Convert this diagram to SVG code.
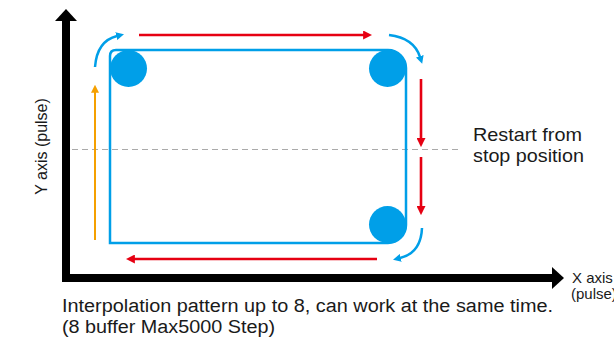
<svg xmlns="http://www.w3.org/2000/svg" width="614" height="338" viewBox="0 0 614 338">
<style>
.txt{font-family:"Liberation Sans",Arial,sans-serif;fill:#1a1a1a}
.blue{fill:none;stroke:#009FE8;stroke-width:2.5}
.red{fill:none;stroke:#E60012;stroke-width:2.6}
.axis{stroke:#000;stroke-width:8;fill:none}
</style>
<defs>
<marker id="mRed" viewBox="0 0 10 10" refX="1" refY="5" markerWidth="9" markerHeight="9" markerUnits="userSpaceOnUse" orient="auto"><path d="M0,0 L10,5 L0,10 Z" fill="#E60012"/></marker>
<marker id="mBlue" viewBox="0 0 10 10" refX="1" refY="5" markerWidth="8" markerHeight="8" markerUnits="userSpaceOnUse" orient="auto"><path d="M0,0 L10,5 L0,10 Z" fill="#009FE8"/></marker>
<marker id="mOrange" viewBox="0 0 10 10" refX="1" refY="5" markerWidth="8" markerHeight="8" markerUnits="userSpaceOnUse" orient="auto"><path d="M0,0 L10,5 L0,10 Z" fill="#F5A000"/></marker>
</defs>
<rect width="614" height="338" fill="#fff"/>
<g id="stop-line">
<line x1="72" y1="149.5" x2="462" y2="149.5" stroke="#aaa" stroke-width="1.2" stroke-dasharray="6 4"/>
</g>
<g id="axes">
<line class="axis" x1="66" y1="282" x2="66" y2="20"/>
<polygon points="55,21 66,9 77,21" fill="#000"/>
<line class="axis" x1="62" y1="278" x2="553" y2="278"/>
<polygon points="552,267 564,278 552,289" fill="#000"/>
</g>
<g id="path-rect">
<path class="blue" d="M110,243 L110,56 Q110,50 116,50 L388,50 A18,18 0 0 1 406,68 L406,225 A18,18 0 0 1 388,243 Z"/>
</g>
<g id="point-tl"><circle cx="128.5" cy="68.5" r="18.5" fill="#009FE8"/></g>
<g id="point-tr"><circle cx="387.5" cy="68.5" r="18.5" fill="#009FE8"/></g>
<g id="point-br"><circle cx="387.5" cy="224.5" r="18.5" fill="#009FE8"/></g>
<g id="connectors">
<line x1="95" y1="240" x2="95" y2="92" stroke="#F5A000" stroke-width="2" marker-end="url(#mOrange)"/>
<path class="blue" d="M95,67 Q97,41 117,36" marker-end="url(#mBlue)"/>
<line class="red" x1="139" y1="35" x2="364" y2="35" marker-end="url(#mRed)"/>
<path class="blue" d="M389,35 Q414,38 420,57" marker-end="url(#mBlue)"/>
<line class="red" x1="421" y1="79" x2="421" y2="139" marker-end="url(#mRed)"/>
<line class="red" x1="421" y1="157" x2="421" y2="207" marker-end="url(#mRed)"/>
<path class="blue" d="M422,228 Q421,253 400,258" marker-end="url(#mBlue)"/>
<line class="red" x1="377" y1="259" x2="134" y2="259" marker-end="url(#mRed)"/>
</g>
<g id="labels">
<text class="txt" x="473" y="141" font-size="18.5" textLength="109" lengthAdjust="spacingAndGlyphs">Restart from</text>
<text class="txt" x="473" y="162" font-size="18.5" textLength="111" lengthAdjust="spacingAndGlyphs">stop position</text>
<text class="txt" x="572" y="283" font-size="15">X axis</text>
<text class="txt" x="571" y="298.5" font-size="15">(pulse)</text>
<text class="txt" transform="translate(47,146.5) rotate(-90)" text-anchor="middle" font-size="16">Y axis (pulse)</text>
<text class="txt" x="62" y="312" font-size="18" textLength="491" lengthAdjust="spacingAndGlyphs">Interpolation pattern up to 8, can work at the same time.</text>
<text class="txt" x="62" y="333" font-size="18" textLength="213" lengthAdjust="spacingAndGlyphs">(8 buffer Max5000 Step)</text>
</g>
</svg>
